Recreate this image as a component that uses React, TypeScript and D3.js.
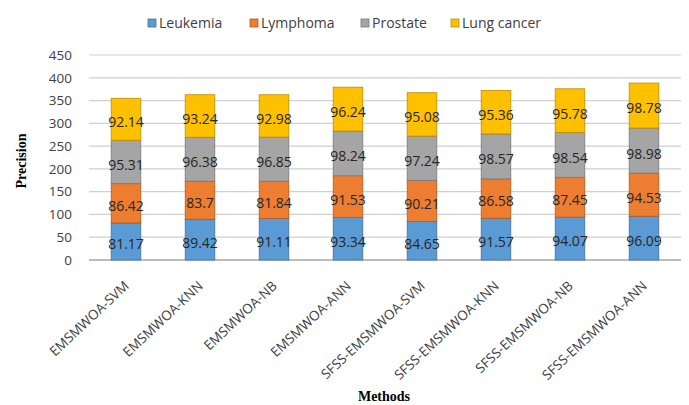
import React from "react";
import * as d3 from "d3";

const categories = [
  "EMSMWOA-SVM",
  "EMSMWOA-KNN",
  "EMSMWOA-NB",
  "EMSMWOA-ANN",
  "SFSS-EMSMWOA-SVM",
  "SFSS-EMSMWOA-KNN",
  "SFSS-EMSMWOA-NB",
  "SFSS-EMSMWOA-ANN",
];
const seriesNames = ["Leukemia", "Lymphoma", "Prostate", "Lung cancer"];
const leukemia = [81.17, 89.42, 91.11, 93.34, 84.65, 91.57, 94.07, 96.09];
const lymphoma = [86.42, 83.7, 81.84, 91.53, 90.21, 86.58, 87.45, 94.53];
const prostate = [95.31, 96.38, 96.85, 98.24, 97.24, 98.57, 98.54, 98.98];
const lungCancer = [92.14, 93.24, 92.98, 96.24, 95.08, 95.36, 95.78, 98.78];
const yTicks = [0, 50, 100, 150, 200, 250, 300, 350, 400, 450];

const colors = ["#5B9BD5", "#ED7D31", "#A5A5A5", "#FFC000"];
const strokes = ["#41719C", "#AE5A21", "#787878", "#BC8C00"];

export default function App() {
  const W = 689, H = 405;
  const left = 89, right = 681, top = 55, bottom = 260;
  const series = [leukemia, lymphoma, prostate, lungCancer];
  const rows = categories.map((c, i) => {
    const r: any = { cat: c };
    seriesNames.forEach((s, k) => (r[s] = series[k][i]));
    return r;
  });
  const stack = d3.stack<any>().keys(seriesNames)(rows);
  const x = d3.scaleBand().domain(categories).range([left, right]).paddingInner(0.6).paddingOuter(0.3);
  const y = d3.scaleLinear().domain([0, 450]).range([bottom, top]);
  const font = "'Open Sans', sans-serif";

  const legendX = [148, 250, 361, 451];

  return (
    <svg width={W} height={H} style={{ position: "absolute", left: 0, top: 0, background: "#fff" }}>
      <rect width={W} height={H} fill="#fff" />
      {yTicks.map((t) => (
        <g key={t}>
          <line x1={left} x2={right} y1={y(t)} y2={y(t)} stroke={t === 0 ? "#A6A6A6" : "#D0D0D0"} strokeWidth={t === 0 ? 1.5 : 1.2} />
          <text x={72} y={y(t)} dy="0.35em" textAnchor="end" fontFamily={font} fontSize={13.5} fill="#404040">
            {t}
          </text>
        </g>
      ))}
      {stack.map((layer, k) =>
        layer.map((d, i) => (
          <rect
            key={k + "-" + i}
            x={x(categories[i])!}
            width={x.bandwidth()}
            y={y(d[1])}
            height={y(d[0]) - y(d[1])}
            fill={colors[k]}
            stroke={strokes[k]}
            strokeWidth={0.8}
          />
        ))
      )}
      {stack.map((layer, k) =>
        layer.map((d, i) => (
          <text
            key={"l" + k + "-" + i}
            x={x(categories[i])! + x.bandwidth() / 2}
            y={(y(d[0]) + y(d[1])) / 2 + 3}
            dy="0.35em"
            textAnchor="middle"
            fontFamily={font}
            fontSize={14}
            fill="#262626"
          >
            {series[k][i]}
          </text>
        ))
      )}
      {categories.map((c) => (
        <text
          key={c}
          transform={`translate(${x(c)! + x.bandwidth() / 2 + 4},${287}) rotate(-43)`}
          textAnchor="end"
          fontFamily={font}
          fontSize={13.5}
          fill="#404040"
        >
          {c}
        </text>
      ))}
      {seriesNames.map((s, k) => (
        <g key={s}>
          <rect x={legendX[k]} y={19} width={8} height={8} fill={colors[k]} stroke={strokes[k]} strokeWidth={0.8} />
          <text x={legendX[k] + 11} y={23} dy="0.35em" fontFamily={font} fontSize={14} fill="#404040">
            {s}
          </text>
        </g>
      ))}
      <text
        transform="translate(26,161) rotate(-90)"
        textAnchor="middle"
        fontFamily="'Liberation Serif', 'Times New Roman', serif"
        fontWeight="bold"
        fontSize={14}
        fill="#000"
      >
        Precision
      </text>
      <text x={384} y={401} textAnchor="middle" fontFamily="'Liberation Serif', 'Times New Roman', serif" fontWeight="bold" fontSize={14} fill="#000">
        Methods
      </text>
    </svg>
  );
}
